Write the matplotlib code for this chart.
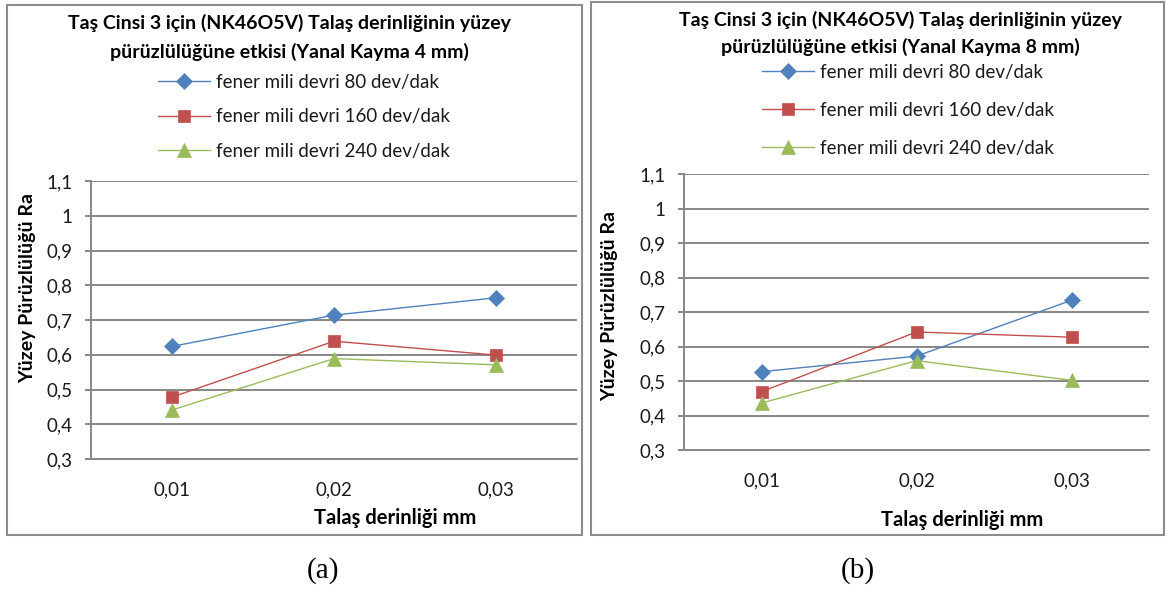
import matplotlib
matplotlib.use("Agg")
import matplotlib.pyplot as plt
from matplotlib.patches import Rectangle

# Data: surface roughness Ra vs depth of cut, three spindle speeds
depths = ["0,01", "0,02", "0,03"]
series_labels = ["fener mili devri 80 dev/dak",
                 "fener mili devri 160 dev/dak",
                 "fener mili devri 240 dev/dak"]
ra_4mm_80 = [0.624, 0.714, 0.764]
ra_4mm_160 = [0.478, 0.639, 0.599]
ra_4mm_240 = [0.441, 0.589, 0.571]
ra_8mm_80 = [0.527, 0.572, 0.734]
ra_8mm_160 = [0.469, 0.642, 0.627]
ra_8mm_240 = [0.436, 0.559, 0.502]
y_ticks = [0.3, 0.4, 0.5, 0.6, 0.7, 0.8, 0.9, 1.0, 1.1]
y_tick_labels = ["0,3", "0,4", "0,5", "0,6", "0,7", "0,8", "0,9", "1", "1,1"]
title_line1 = "Taş Cinsi 3 için (NK46O5V) Talaş derinliğinin yüzey"
title_line2 = ["pürüzlülüğüne etkisi (Yanal Kayma 4 mm)",
               "pürüzlülüğüne etkisi (Yanal Kayma 8 mm)"]
y_label = "Yüzey Pürüzlülüğü Ra"
x_label = "Talaş derinliği mm"
panel_tags = ["(a)", "(b)"]

COLORS = ["#4F81BD", "#C0504D", "#9BBB59"]
MARKERS = [("D", 8.5), ("s", 9.3), ("^", 10.5)]
GRID = "#878787"
FONT = ["Lato", "DejaVu Sans"]

W, H = 1166, 595
fig = plt.figure(figsize=(W / 100, H / 100), dpi=100)
fig.patch.set_facecolor("white")


def fx(px):
    return px / W


def fy(py):
    return 1 - py / H


def panel(frame, plot_box, title_x, title_ys, legend_xy, legend_sp, ylab_xy,
          xlab_xy, tag_xy, data, line2, tag):
    # outer frame of the chart object
    x0, y0, x1, y1 = frame
    fig.patches.append(Rectangle((fx(x0), fy(y1)), fx(x1) - fx(x0), fy(y0) - fy(y1),
                                 transform=fig.transFigure, fill=False,
                                 edgecolor="#8C8C8C", linewidth=1.5))
    l, t, r, b = plot_box
    ax = fig.add_axes([fx(l), fy(b), fx(r) - fx(l), fy(t) - fy(b)])
    xs = list(range(len(depths)))
    handles = []
    for vals, c, (m, ms), lab in zip(data, COLORS, MARKERS, series_labels):
        h, = ax.plot(xs, vals, color=c, linewidth=1.0, marker=m, markersize=ms,
                     markerfacecolor=c, markeredgecolor=c, markeredgewidth=0.5,
                     label=lab, zorder=3)
        handles.append(h)
    ax.set_xlim(-0.5, 2.5)
    ax.set_ylim(0.3, 1.1)
    ax.set_yticks(y_ticks)
    ax.set_yticklabels(y_tick_labels)
    ax.set_xticks(xs)
    ax.set_xticklabels(depths)
    ax.grid(axis="y", color=GRID, linewidth=1.4)
    ax.set_axisbelow(True)
    for s in ["top", "right"]:
        ax.spines[s].set_visible(False)
    for s in ["left", "bottom"]:
        ax.spines[s].set_color(GRID)
        ax.spines[s].set_linewidth(1.4)
    ax.tick_params(axis="y", length=4, width=1.4, color=GRID, pad=9.5, labelsize=13.5)
    ax.tick_params(axis="x", length=0, pad=16, labelsize=13.5)
    for lb in ax.get_xticklabels() + ax.get_yticklabels():
        lb.set_family(FONT)
        lb.set_color("#1a1a1a")

    for txt, ty in zip([title_line1, line2], title_ys):
        fig.text(fx(title_x), fy(ty), txt, ha="center", va="center",
                 fontsize=14, fontweight="bold", family=FONT)
    leg = ax.legend(handles=handles, loc="upper left",
                    bbox_to_anchor=(fx(legend_xy[0]), fy(legend_xy[1])),
                    bbox_transform=fig.transFigure, frameon=False,
                    borderpad=0, borderaxespad=0, handlelength=2.75,
                    handletextpad=0.32, labelspacing=legend_sp,
                    prop={"family": FONT, "size": 13.5})
    for txt in leg.get_texts():
        txt.set_color("#1a1a1a")
    fig.text(fx(ylab_xy[0]), fy(ylab_xy[1]), y_label, rotation=90,
             ha="center", va="center", fontsize=14, fontweight="bold", family=FONT)
    fig.text(fx(xlab_xy[0]), fy(xlab_xy[1]), x_label, ha="center",
             va="center", fontsize=14.5, fontweight="bold", family=FONT)
    fig.text(fx(tag_xy[0]), fy(tag_xy[1]), tag, ha="center", va="center",
             fontsize=21, family=["Liberation Serif", "DejaVu Serif"])
    return ax


panel(frame=(7, 5, 582, 535), plot_box=(91, 181, 577, 459),
      title_x=289, title_ys=(23, 52), legend_xy=(158, 74), legend_sp=0.93,
      ylab_xy=(28, 288), xlab_xy=(395, 518), tag_xy=(323, 571),
      data=[ra_4mm_80, ra_4mm_160, ra_4mm_240], line2=title_line2[0],
      tag=panel_tags[0])
panel(frame=(591, 2, 1164, 535), plot_box=(684, 174, 1149, 450),
      title_x=900, title_ys=(20, 47), legend_xy=(762, 64), legend_sp=1.12,
      ylab_xy=(610, 306), xlab_xy=(962, 520), tag_xy=(858, 571),
      data=[ra_8mm_80, ra_8mm_160, ra_8mm_240], line2=title_line2[1],
      tag=panel_tags[1])

fig.savefig("out.png", dpi=100, facecolor="white")
